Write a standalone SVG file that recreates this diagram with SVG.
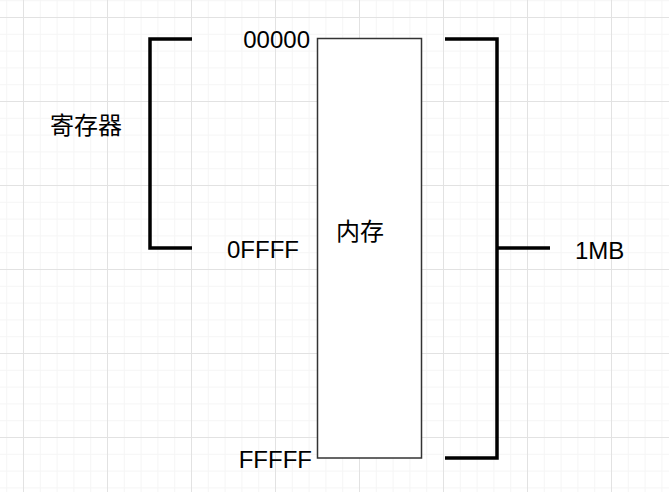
<svg xmlns="http://www.w3.org/2000/svg" width="669" height="492" viewBox="0 0 669 492">
  <defs>
    <pattern id="minor" x="23" y="17" width="16.8" height="16.8" patternUnits="userSpaceOnUse">
      <path d="M0 0.5H16.8M0.5 0V16.8" fill="none" stroke="#f5f5f5" stroke-width="1"/>
    </pattern>
    <pattern id="major" x="23" y="17" width="84" height="84" patternUnits="userSpaceOnUse">
      <path d="M0 0.5H84M0.5 0V84" fill="none" stroke="#e2e2e2" stroke-width="1"/>
    </pattern>
    <style>
      .lbl { font-family: "Liberation Sans", Arial, sans-serif; font-size: 24px; fill: #000; }
      .cjk { font-family: "Liberation Sans", "Noto Sans CJK SC", sans-serif; font-size: 24px; fill: #000; }
      .brk { fill: none; stroke: #000; stroke-width: 3.5; stroke-linejoin: miter; stroke-linecap: butt; }
      .box { fill: #fff; stroke: #333; stroke-width: 1.5; }
    </style>
  </defs>
  <rect width="669" height="492" fill="#fff"/>
  <rect width="669" height="492" fill="url(#minor)"/>
  <rect width="669" height="492" fill="url(#major)"/>

  <g id="memory">
    <rect class="box" x="317.5" y="38.5" width="104" height="419.5"/>
    <text class="cjk" x="360" y="240" text-anchor="middle">内存</text>
  </g>

  <g id="register-bracket">
    <path class="brk" d="M192 39H150V248H192"/>
    <text class="cjk" x="86" y="134" text-anchor="middle">寄存器</text>
  </g>

  <g id="mb-bracket">
    <path class="brk" d="M445 39H497V458H445"/>
    <text class="lbl" x="575" y="259">1MB</text>
  </g>

  <g id="addresses">
    <text class="lbl" x="310" y="48" text-anchor="end">00000</text>
    <text class="lbl" x="299" y="258" text-anchor="end">0FFFF</text>
    <text class="lbl" x="312" y="468" text-anchor="end">FFFFF</text>
  </g>

  <g id="connectors">
    <path class="brk" d="M497 248H550"/>
  </g>
</svg>
